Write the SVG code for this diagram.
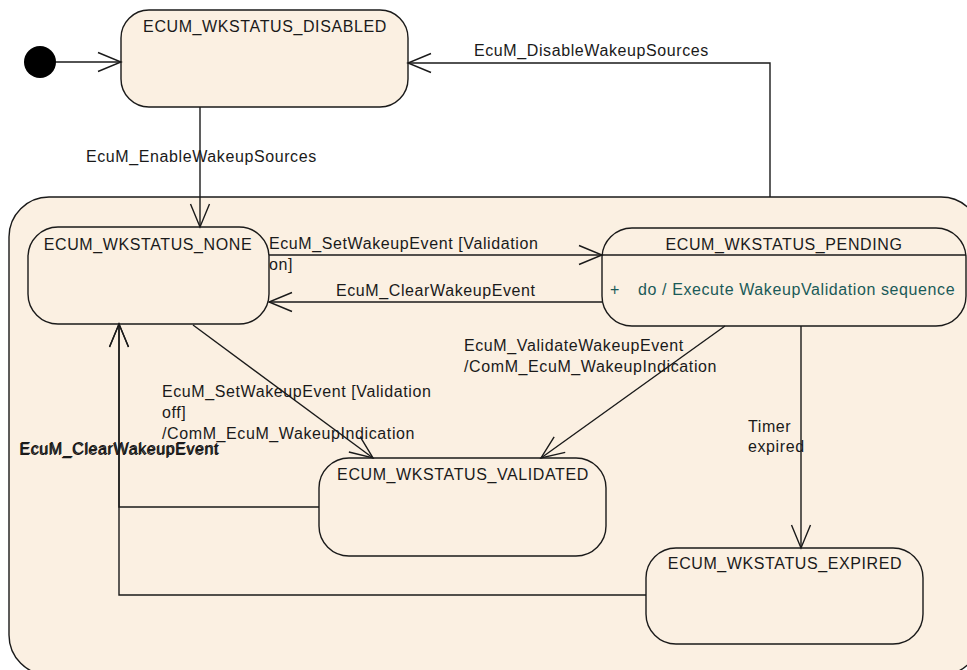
<svg xmlns="http://www.w3.org/2000/svg" width="967" height="670" viewBox="0 0 967 670">
<defs>
<style>
.st{fill:#fbf0e2;stroke:#1a1a1a;stroke-width:1.4}
.t{font-family:"Liberation Sans",Arial,sans-serif;font-size:16px;letter-spacing:0.6px;fill:#1a1a1a}
.c{text-anchor:middle}
.ln{fill:none;stroke:#1a1a1a;stroke-width:1.4}
.act{fill:#1a5a58}
</style>
<marker id="ah" markerUnits="userSpaceOnUse" markerWidth="30" markerHeight="24" viewBox="-24 -12 26 24" refX="0" refY="0" orient="auto">
<path d="M-23,-9.5 L0,0 L-23,9.5" fill="none" stroke="#1a1a1a" stroke-width="1.4"/>
</marker>
</defs>
<rect width="967" height="670" fill="#ffffff"/>

<g id="composite">
<rect class="st" x="9" y="197" width="972" height="478" rx="40" ry="40"/>
</g>

<g id="initial">
<circle cx="40" cy="62" r="16" fill="#000"/>
</g>

<g id="disabled">
<rect class="st" x="121" y="10" width="287" height="97" rx="28" ry="28"/>
<text class="t c" x="265" y="32">ECUM_WKSTATUS_DISABLED</text>
</g>

<g id="none">
<rect class="st" x="28" y="227" width="241" height="97" rx="30" ry="30"/>
<text class="t c" x="148" y="250">ECUM_WKSTATUS_NONE</text>
</g>

<g id="pending">
<rect class="st" x="602" y="228" width="364" height="98" rx="30" ry="30"/>
<line class="ln" x1="602" y1="255" x2="966" y2="255"/>
<text class="t c" x="784" y="250">ECUM_WKSTATUS_PENDING</text>
<text class="t act" x="610" y="295">+</text>
<text class="t act" x="638" y="295">do / Execute WakeupValidation sequence</text>
</g>

<g id="validated">
<rect class="st" x="319" y="458" width="287" height="98" rx="30" ry="30"/>
<text class="t c" x="463" y="480">ECUM_WKSTATUS_VALIDATED</text>
</g>

<g id="expired">
<rect class="st" x="646" y="548" width="277" height="96" rx="30" ry="30"/>
<text class="t c" x="785" y="569">ECUM_WKSTATUS_EXPIRED</text>
</g>

<g id="connectors">
<line class="ln" x1="56" y1="62" x2="121" y2="62" marker-end="url(#ah)"/>
<line class="ln" x1="200" y1="107" x2="200" y2="227" marker-end="url(#ah)"/>
<polyline class="ln" points="770,197 770,63 408,63" marker-end="url(#ah)"/>
<line class="ln" x1="269" y1="255" x2="602" y2="255" marker-end="url(#ah)"/>
<line class="ln" x1="602" y1="302" x2="269" y2="302" marker-end="url(#ah)"/>
<line class="ln" x1="193" y1="325" x2="373" y2="458" marker-end="url(#ah)"/>
<line class="ln" x1="725" y1="326" x2="541" y2="458" marker-end="url(#ah)"/>
<line class="ln" x1="801" y1="326" x2="801" y2="548" marker-end="url(#ah)"/>
<polyline class="ln" points="319,507 119,507 119,324" marker-end="url(#ah)"/>
<polyline class="ln" points="646,595 119,595 119,324" marker-end="url(#ah)"/>

<text class="t" x="86" y="162">EcuM_EnableWakeupSources</text>
<text class="t" x="474" y="56">EcuM_DisableWakeupSources</text>
<text class="t" x="269" y="249">EcuM_SetWakeupEvent [Validation</text>
<text class="t" x="269" y="270">on]</text>
<text class="t" x="336" y="296">EcuM_ClearWakeupEvent</text>
<text class="t" x="162" y="397">EcuM_SetWakeupEvent [Validation</text>
<text class="t" x="162" y="418">off]</text>
<text class="t" x="162" y="439">/ComM_EcuM_WakeupIndication</text>
<text class="t" x="464" y="351">EcuM_ValidateWakeupEvent</text>
<text class="t" x="464" y="372">/ComM_EcuM_WakeupIndication</text>
<text class="t" x="748" y="432">Timer</text>
<text class="t" x="748" y="452">expired</text>
<text class="t" x="19" y="455">EcuM_ClearWakeupEvent</text>
<text class="t" x="20" y="454">EcuM_ClearWakeupEvent</text>
</g>
</svg>
